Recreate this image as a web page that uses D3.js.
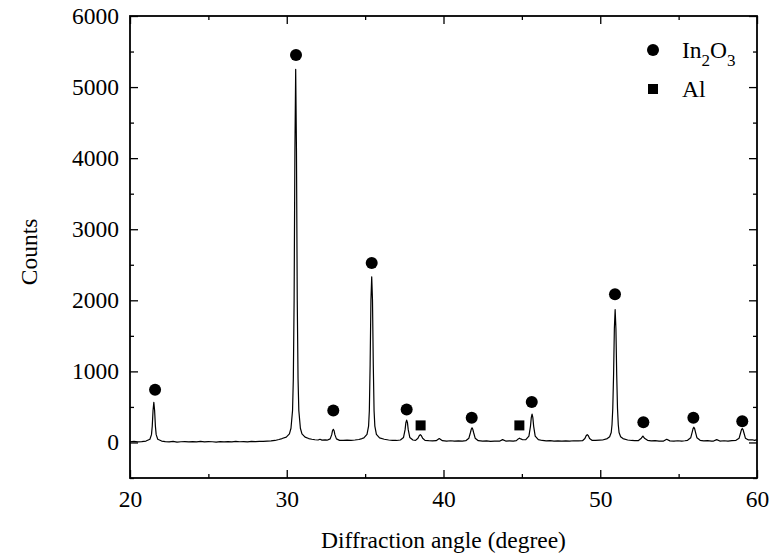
<!DOCTYPE html>
<html>
<head>
<meta charset="utf-8">
<script src="https://cdn.jsdelivr.net/npm/d3@7"></script>
<style>
    body { margin: 0; background: #fff; }
    #data-viz-xrd text { font-family: "Liberation Serif", "Times New Roman", serif; fill: #000; }
</style>
</head>
<body>
<div id="data-viz-xrd"></div>
<script>
// measured scan, [diffraction angle (deg), counts]
const xrdScan = [
    [20.0, 10], [20.25, 14], [20.5, 8], [20.75, 12], [21.02, 20],
    [21.27, 45], [21.37, 110], [21.42, 230], [21.47, 450], [21.52, 565], [21.57, 450], [21.62, 230], [21.67, 110], [21.77, 45], [22.02, 20],
    [22.25, 12], [22.5, 8], [22.75, 14], [23.0, 6], [23.25, 10], [23.5, 13], [23.75, 7], [24.0, 11], [24.25, 9], [24.5, 14],
    [24.75, 8], [25.0, 12], [25.25, 10], [25.5, 6], [25.75, 13], [26.0, 9], [26.25, 12], [26.5, 8], [26.75, 14], [27.0, 10],
    [27.25, 13], [27.5, 9], [27.75, 15], [28.0, 12], [28.25, 16], [28.5, 14], [28.75, 20], [29.0, 22], [29.25, 28], [29.5, 42],
    [29.7, 55], [29.97, 75], [30.17, 120], [30.27, 200], [30.37, 450], [30.42, 900], [30.47, 2000], [30.52, 4100],
    [30.57, 5250], [30.62, 4100], [30.67, 2000], [30.72, 900], [30.77, 450], [30.87, 200], [30.97, 120], [31.17, 75],
    [31.4, 55], [31.6, 45], [31.8, 38], [32.0, 35], [32.12, 45], [32.25, 33], [32.45, 36],
    [32.57, 32], [32.77, 50], [32.87, 110], [32.92, 165], [32.97, 185], [33.02, 165], [33.07, 110], [33.17, 50], [33.37, 30],
    [33.6, 28], [33.85, 32], [34.1, 30], [34.35, 35], [34.6, 42], [34.8, 55], [34.92, 65], [35.12, 115], [35.22, 230],
    [35.27, 450], [35.32, 1100], [35.37, 2000], [35.42, 2330], [35.47, 2000], [35.52, 1100], [35.57, 450], [35.62, 230],
    [35.72, 115], [35.92, 65], [36.22, 45], [36.5, 35], [36.75, 30], [37.0, 28],
    [37.25, 35], [37.45, 70], [37.55, 180], [37.6, 280], [37.65, 315], [37.7, 280], [37.75, 180], [37.85, 70], [38.05, 35],
    [38.22, 30], [38.37, 60], [38.45, 95], [38.52, 110], [38.59, 95], [38.67, 60], [38.82, 30],
    [39.05, 25], [39.3, 22], [39.53, 25], [39.73, 55], [39.93, 25], [40.2, 20], [40.45, 24], [40.7, 18], [40.95, 22], [41.2, 20],
    [41.42, 25], [41.62, 60], [41.72, 140], [41.77, 185], [41.82, 205], [41.87, 185], [41.92, 140], [42.02, 60], [42.22, 25],
    [42.5, 18], [42.75, 22], [43.0, 16], [43.25, 20], [43.57, 18], [43.77, 40], [43.97, 20], [44.2, 22], [44.45, 18],
    [44.65, 25], [44.77, 50], [44.85, 60], [44.93, 50], [45.05, 38], [45.25, 40],
    [45.45, 90], [45.55, 230], [45.6, 350], [45.65, 400], [45.7, 350], [45.75, 230], [45.85, 90], [46.05, 40],
    [46.3, 28], [46.55, 22], [46.8, 25], [47.05, 20], [47.3, 23], [47.55, 18], [47.8, 22], [48.05, 20], [48.3, 24], [48.6, 22],
    [48.87, 25], [49.02, 55], [49.1, 95], [49.17, 110], [49.24, 95], [49.32, 55], [49.47, 30], [49.7, 28], [49.95, 32],
    [50.15, 35], [50.45, 55], [50.6, 80], [50.7, 140], [50.75, 250], [50.8, 480], [50.85, 950], [50.9, 1600], [50.95, 1870],
    [51.0, 1600], [51.05, 950], [51.1, 480], [51.15, 250], [51.2, 140], [51.3, 80], [51.45, 55], [51.75, 35], [52.0, 28],
    [52.2, 25], [52.42, 25], [52.62, 60], [52.72, 90], [52.82, 60], [53.02, 30], [53.25, 22], [53.5, 25], [53.75, 18],
    [54.04, 20], [54.24, 45], [54.44, 22], [54.7, 20], [54.95, 24], [55.2, 20], [55.4, 24],
    [55.57, 30], [55.77, 65], [55.87, 150], [55.92, 195], [55.97, 215], [56.02, 195], [56.07, 150], [56.17, 65], [56.37, 30],
    [56.6, 22], [56.85, 25], [57.1, 20], [57.23, 20], [57.43, 40], [57.63, 20], [57.9, 24], [58.15, 20], [58.4, 26],
    [58.66, 30], [58.86, 60], [58.96, 140], [59.01, 180], [59.06, 195], [59.11, 180], [59.16, 140], [59.26, 60], [59.46, 35],
    [59.7, 38], [59.85, 30], [60.0, 40]
]

// peak markers, [angle, counts]
const in2o3Peaks = [
    [21.6, 742], [30.59, 5450], [32.97, 451], [35.42, 2525], [37.65, 465], [41.8, 348],
    [45.63, 568], [50.94, 2084], [52.75, 286], [55.94, 348], [59.06, 300]
]
const alPeaks = [[38.54, 240], [44.84, 240]]

const xMajorTicks = [20, 30, 40, 50, 60]
const xMinorTicks = [25, 35, 45, 55]
const yMajorTicks = [0, 1000, 2000, 3000, 4000, 5000, 6000]
const yMinorTicks = [-500, 500, 1500, 2500, 3500, 4500, 5500]
const xDomain = [20, 60]
const yDomain = [-500, 6000]

function drawChart() {
    const dimensions = {
        width: 781,
        height: 557,
        margin: { top: 16, right: 24, bottom: 79, left: 130 }
    }
    dimensions.boundedWidth = dimensions.width - dimensions.margin.left - dimensions.margin.right
    dimensions.boundedHeight = dimensions.height - dimensions.margin.top - dimensions.margin.bottom

    const fontSize = 23.5
    const majorLen = 8
    const minorLen = 4

    const wrapper = d3.select("#data-viz-xrd")
        .append("svg")
        .attr("width", dimensions.width)
        .attr("height", dimensions.height)

    const chart = wrapper.append("g")
        .attr("transform", `translate(${dimensions.margin.left}, ${dimensions.margin.top})`)

    const xScale = d3.scaleLinear().domain(xDomain).range([0, dimensions.boundedWidth])
    const yScale = d3.scaleLinear().domain(yDomain).range([dimensions.boundedHeight, 0])

    // the scan
    const line = d3.line()
        .x(d => xScale(d[0]))
        .y(d => yScale(d[1]))
    chart.append("path")
        .datum(xrdScan)
        .attr("d", line)
        .attr("fill", "none")
        .attr("stroke", "#000")
        .attr("stroke-width", 1.2)
        .attr("stroke-linejoin", "round")

    // markers
    chart.selectAll(".in2o3")
        .data(in2o3Peaks)
        .join("circle")
        .attr("class", "in2o3")
        .attr("cx", d => xScale(d[0]))
        .attr("cy", d => yScale(d[1]))
        .attr("r", 6)
        .attr("fill", "#000")

    const sq = 10
    chart.selectAll(".al")
        .data(alPeaks)
        .join("rect")
        .attr("class", "al")
        .attr("x", d => xScale(d[0]) - sq / 2)
        .attr("y", d => yScale(d[1]) - sq / 2)
        .attr("width", sq)
        .attr("height", sq)
        .attr("fill", "#000")

    // axes, ticks pointing inward, mirrored on top and right
    function styleAxis(g) {
        g.select(".domain").remove()
        g.selectAll("line").attr("stroke", "#000").attr("stroke-width", 1.3)
        g.selectAll("text").style("font-size", fontSize + "px")
    }

    chart.append("g")
        .attr("transform", `translate(0, ${dimensions.boundedHeight})`)
        .call(d3.axisBottom(xScale).tickValues(xMajorTicks).tickSize(-majorLen).tickPadding(12).tickFormat(d3.format("d")))
        .call(styleAxis)
    chart.append("g")
        .attr("transform", `translate(0, ${dimensions.boundedHeight})`)
        .call(d3.axisBottom(xScale).tickValues(xMinorTicks).tickSize(-minorLen).tickFormat(""))
        .call(styleAxis)
    chart.append("g")
        .call(d3.axisTop(xScale).tickValues(xMajorTicks).tickSize(-majorLen).tickFormat(""))
        .call(styleAxis)
    chart.append("g")
        .call(d3.axisTop(xScale).tickValues(xMinorTicks).tickSize(-minorLen).tickFormat(""))
        .call(styleAxis)

    chart.append("g")
        .call(d3.axisLeft(yScale).tickValues(yMajorTicks).tickSize(-majorLen).tickPadding(11).tickFormat(d3.format("d")))
        .call(styleAxis)
    chart.append("g")
        .call(d3.axisLeft(yScale).tickValues(yMinorTicks).tickSize(-minorLen).tickFormat(""))
        .call(styleAxis)
    chart.append("g")
        .attr("transform", `translate(${dimensions.boundedWidth}, 0)`)
        .call(d3.axisRight(yScale).tickValues(yMajorTicks).tickSize(-majorLen).tickFormat(""))
        .call(styleAxis)
    chart.append("g")
        .attr("transform", `translate(${dimensions.boundedWidth}, 0)`)
        .call(d3.axisRight(yScale).tickValues(yMinorTicks).tickSize(-minorLen).tickFormat(""))
        .call(styleAxis)

    // frame
    chart.append("rect")
        .attr("width", dimensions.boundedWidth)
        .attr("height", dimensions.boundedHeight)
        .attr("fill", "none")
        .attr("stroke", "#000")
        .attr("stroke-width", 1.8)

    // axis titles
    wrapper.append("text")
        .attr("x", dimensions.margin.left + dimensions.boundedWidth / 2)
        .attr("y", 548)
        .attr("text-anchor", "middle")
        .style("font-size", fontSize + "px")
        .text("Diffraction angle (degree)")

    wrapper.append("text")
        .attr("transform", `translate(36.5, 252) rotate(-90)`)
        .attr("text-anchor", "middle")
        .style("font-size", fontSize + "px")
        .text("Counts")

    // legend
    const legend = wrapper.append("g")
    legend.append("circle")
        .attr("cx", 653).attr("cy", 50).attr("r", 6).attr("fill", "#000")
    const lt = legend.append("text")
        .attr("x", 682).attr("y", 58)
        .style("font-size", fontSize + "px")
    lt.append("tspan").text("In")
    lt.append("tspan").attr("dy", 8).style("font-size", "17px").text("2")
    lt.append("tspan").attr("dy", -8).text("O")
    lt.append("tspan").attr("dy", 8).style("font-size", "17px").text("3")

    legend.append("rect")
        .attr("x", 653 - sq / 2).attr("y", 89 - sq / 2)
        .attr("width", sq).attr("height", sq).attr("fill", "#000")
    legend.append("text")
        .attr("x", 682).attr("y", 97)
        .style("font-size", fontSize + "px")
        .text("Al")
}

drawChart()
</script>
</body>
</html>
